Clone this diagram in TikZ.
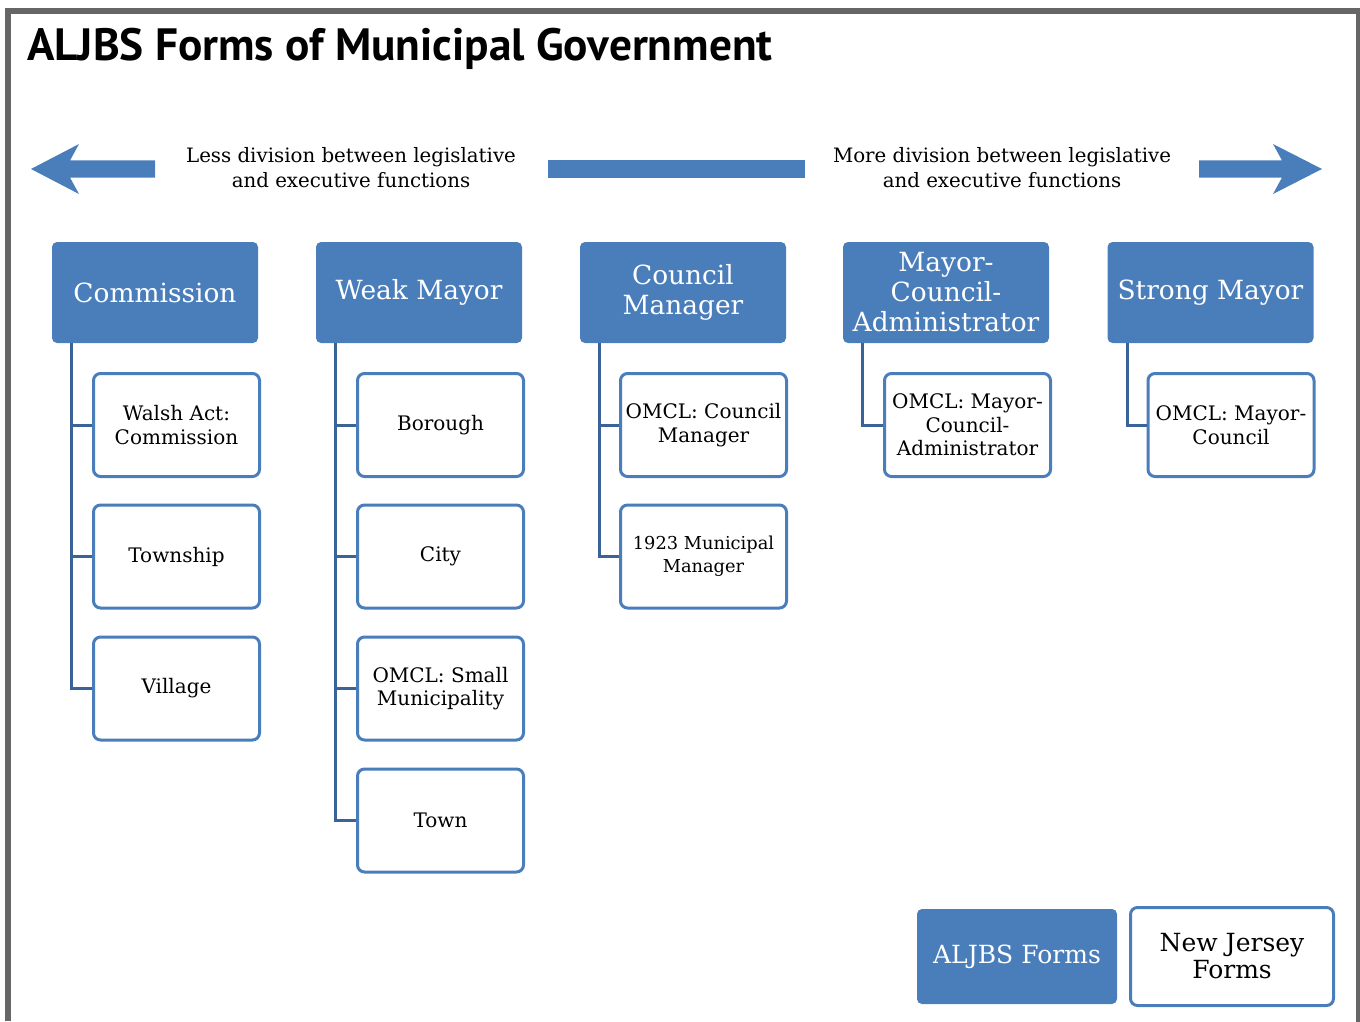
\documentclass[tikz,border=0pt]{standalone}
\usepackage{fontspec}
\setmainfont{DejaVu Serif}
\newfontfamily\titlefont{PT Sans}
\definecolor{formblue}{RGB}{74,126,187}
\definecolor{linkblue}{RGB}{58,100,152}
\definecolor{framegray}{RGB}{102,102,102}

\begin{document}
\begin{tikzpicture}
  [x=1pt,y=-1pt,
   form/.style={rounded corners=5pt,fill=formblue,text=white,align=center,minimum width=206pt,minimum height=101pt,inner sep=2pt,font=\fontsize{26.4}{30}\selectfont},
   sub/.style={rounded corners=7pt,draw=formblue,line width=3pt,fill=white,align=center,minimum width=166pt,minimum height=103pt,inner sep=2pt,font=\fontsize{20}{23.5}\selectfont},
   link/.style={draw=linkblue,line width=3pt},
   note/.style={align=center,font=\fontsize{19.8}{25}\selectfont}]
  \useasboundingbox (0,0) rectangle (1360,1022);
  \fill[framegray] (5,8) rectangle (1360,14);
  \fill[framegray] (5,8) rectangle (11,1021);
  \fill[framegray] (1356,8) rectangle (1360,1022);

  \node[anchor=base west,inner sep=0pt,font=\titlefont\bfseries\fontsize{45.3}{50}\selectfont] (title) at (27,61) {ALJBS Forms of Municipal Government};

  \fill[formblue] (155,160.5) -- (70,160.5) -- (79,144) -- (31,169) -- (79,194) -- (70,177.5) -- (155,177.5) -- cycle;
  \fill[formblue] (548,160.5) rectangle (805,177.5);
  \fill[formblue] (1199,160.5) -- (1282,160.5) -- (1273,144) -- (1322,169) -- (1273,194) -- (1282,177.5) -- (1199,177.5) -- cycle;
  \node[note] (less) at (351,168) {Less division between legislative\\and executive functions};
  \node[note] (more) at (1002,168) {More division between legislative\\and executive functions};

  \node[form] (cm)  at (155,292.5)  {Commission};
  \node[form] (wm)  at (419,292.5)  {Weak Mayor};
  \node[form] (cmg) at (683,292.5)  {Council\\Manager};
  \node[form] (mca) at (946,292.5)  {Mayor-\\Council-\\Administrator};
  \node[form] (sm)  at (1210.5,292.5) {Strong Mayor};

  \node[sub] (cm1) at (176.5,425)   {Walsh Act:\\Commission};
  \node[sub] (cm2) at (176.5,556.5) {Township};
  \node[sub] (cm3) at (176.5,688.5) {Village};
  \node[sub] (wm1) at (440.5,425)   {Borough};
  \node[sub] (wm2) at (440.5,556.5) {City};
  \node[sub] (wm3) at (440.5,688.5) {OMCL: Small\\Municipality};
  \node[sub] (wm4) at (440.5,820.5) {Town};
  \node[sub] (cmg1) at (703.5,425)   {OMCL: Council\\Manager};
  \node[sub,font=\fontsize{17.8}{23}\selectfont] (cmg2) at (703.5,556.5) {1923 Municipal\\Manager};
  \node[sub] (mca1) at (967.5,425)  {OMCL: Mayor-\\Council-\\Administrator};
  \node[sub] (sm1)  at (1231,425)   {OMCL: Mayor-\\Council};

\foreach \top/\last in {cm/cm3, wm/wm4, cmg/cmg2, mca/mca1, sm/sm1}
    \draw[link] ([xshift=20pt]\top.south west) |- (\last.west);
\foreach \top/\kid in {cm/cm1, cm/cm2, wm/wm1, wm/wm2, wm/wm3, cmg/cmg1}
    \draw[link] ([xshift=20pt]\top.south west |- \kid.west) -- (\kid.west);

  \node[form,minimum width=200pt,minimum height=95pt,font=\fontsize{25}{28}\selectfont] (aljbs) at (1017,956.5) {ALJBS Forms};
  \node[sub,minimum width=203pt,minimum height=98pt,font=\fontsize{25}{27}\selectfont] (nj) at (1232,956.5) {New Jersey\\Forms};
\end{tikzpicture}
\end{document}
